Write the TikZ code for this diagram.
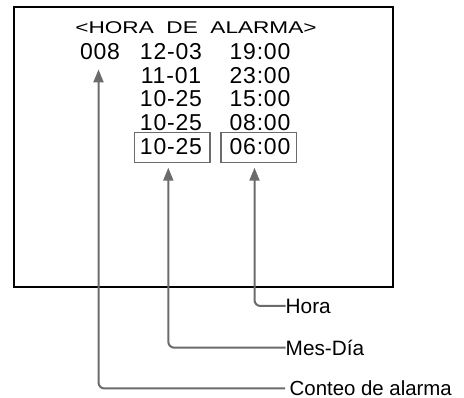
\documentclass[tikz,border=0pt]{standalone}
\usepackage{fontspec}
\setmainfont{Liberation Sans}
\newfontfamily\titlefont[FakeStretch=1.33]{Liberation Sans}
\newfontfamily\digitfont[LetterSpace=3.5]{Liberation Sans}
\usetikzlibrary{arrows.meta}
\definecolor{lgray}{HTML}{6B6B6B}
\tikzset{
  screen/.style={draw=black, line width=1.6pt},
  ttl/.style={inner sep=0pt, anchor=base, font=\titlefont\fontsize{17}{19}\selectfont},
  dig/.style={inner sep=0pt, anchor=base, font=\digitfont\fontsize{23}{25}\selectfont},
  selbox/.style={draw=lgray, line width=1.4pt, inner sep=0pt, minimum height=29.6pt},
  lab/.style={inner sep=0pt, anchor=west, text height=15pt, text depth=0pt, font=\fontsize{20.8}{24}\selectfont},
  conn/.style={draw=lgray, line width=2pt, rounded corners=6pt, -{Triangle[length=13pt,width=10pt]}}
}
\begin{document}
\begin{tikzpicture}[x=1pt,y=1pt]
\useasboundingbox (0,0) rectangle (464,-398);
\node[screen, minimum width=379pt, minimum height=280pt, inner sep=0pt, anchor=north west] (scr) at (13,-6) {};
\node[ttl] (title) at (196,-34) {<HORA\ \ DE\ \ ALARMA>};
% rows
\node[dig] (cnt) at (100,-59.3) {008};
\node[dig] (d1) at (171,-59.3) {12-03};
\node[dig] (h1) at (260,-59.3) {19:00};
\node[dig] (d2) at (171,-83.3) {11-01};
\node[dig] (h2) at (260,-83.3) {23:00};
\node[dig] (d3) at (171,-107) {10-25};
\node[dig] (h3) at (260,-107) {15:00};
\node[dig] (d4) at (171,-131) {10-25};
\node[dig] (h4) at (260,-131) {08:00};
\node[dig] (d5) at (171,-155) {10-25};
\node[dig] (h5) at (260,-155) {06:00};
\node[selbox, minimum width=75.7pt] (b1) at (172.2,-147.5) {};
\node[selbox, minimum width=75.7pt] (b2) at (258.8,-147.5) {};
% labels
\node[lab] (hora) at (285.5,-306) {Hora};
\node[lab] (mes) at (285.5,-347.7) {Mes-Día};
\node[lab, font=\fontsize{20.4}{24}\selectfont] (conteo) at (289.5,-388.5) {Conteo de alarma};
% connectors
\draw[conn] (hora.west) -| ([xshift=-4.3pt,yshift=-4.7pt]b2.south);
\draw[conn] (mes.west) -| ([xshift=-3.9pt,yshift=-4.7pt]b1.south);
\draw[conn] ([xshift=-4.5pt]conteo.west) -| ([xshift=-1.5pt,yshift=-9.7pt]cnt.south);
\end{tikzpicture}
\end{document}
